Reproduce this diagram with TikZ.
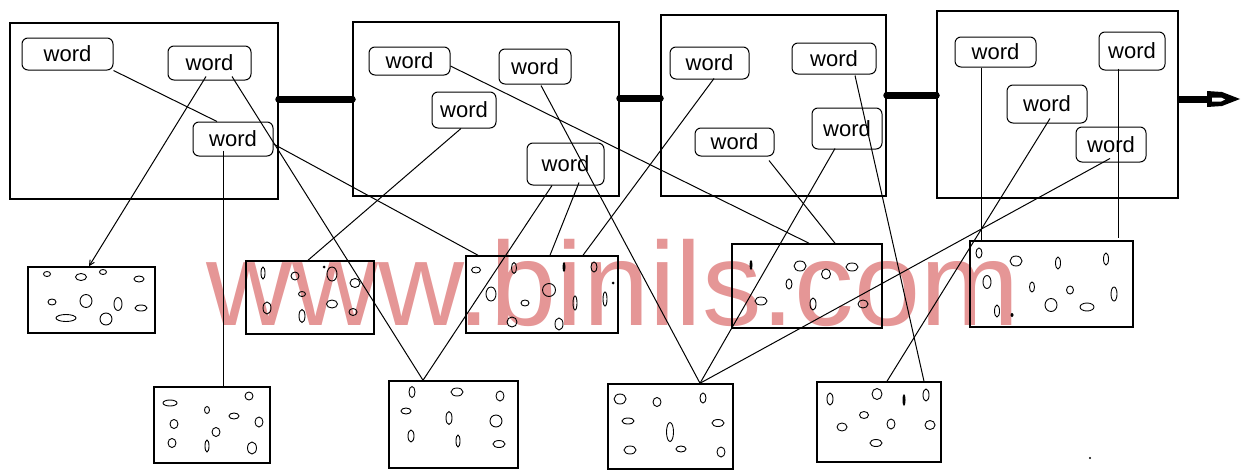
\documentclass[tikz,border=0pt]{standalone}
\usepackage{fontspec}
\newfontfamily\wf{Liberation Sans}
\usetikzlibrary{arrows.meta}
\definecolor{wmark}{RGB}{229,150,150}
\tikzset{
  bigbox/.style={draw, line width=1.5pt, inner sep=0pt},
  smallbox/.style={draw, line width=1.5pt, inner sep=0pt},
  wordbox/.style={draw, line width=1pt, rounded corners=6pt, inner sep=0pt, font=\wf\fontsize{22}{26}\selectfont},
  link/.style={line width=1pt},
  chain/.style={line width=7pt, line cap=round},
  blob/.style={line width=0.9pt},
}
\begin{document}
\begin{tikzpicture}[x=1pt,y=-1pt]
\useasboundingbox (0,0) rectangle (1241,471);
% watermark
\node[anchor=base west, inner sep=0pt, text=wmark, font=\wf\fontsize{119}{130}\selectfont] (wm) at (206,325) {www.binils.com};

% big boxes
\node[bigbox, minimum width=268pt, minimum height=176pt] (A) at (144,111) {};
\node[bigbox, minimum width=266pt, minimum height=174pt] (B) at (486,109) {};
\node[bigbox, minimum width=225pt, minimum height=181pt] (C) at (773.5,105.5) {};
\node[bigbox, minimum width=241pt, minimum height=187pt] (D) at (1057.5,104.5) {};

% word boxes
\node[wordbox, minimum width=91pt, minimum height=32pt] (A1) at (67.5,54) {word};
\node[wordbox, minimum width=83pt, minimum height=34pt] (A2) at (209.5,63) {word};
\node[wordbox, minimum width=80pt, minimum height=34pt] (A3) at (233,139) {word};
\node[wordbox, minimum width=81pt, minimum height=28pt] (B1) at (409.5,61) {word};
\node[wordbox, minimum width=72pt, minimum height=35pt] (B2) at (535,66.5) {word};
\node[wordbox, minimum width=64pt, minimum height=36pt] (B3) at (464,110) {word};
\node[wordbox, minimum width=77pt, minimum height=42pt] (B4) at (565.5,164) {word};
\node[wordbox, minimum width=79pt, minimum height=32pt] (C1) at (709.5,63) {word};
\node[wordbox, minimum width=84pt, minimum height=31pt] (C2) at (834,58.5) {word};
\node[wordbox, minimum width=79pt, minimum height=28pt] (C3) at (734.5,142) {word};
\node[wordbox, minimum width=70pt, minimum height=41pt] (C4) at (847,128.5) {word};
\node[wordbox, minimum width=81pt, minimum height=30pt] (D1) at (995.5,52) {word};
\node[wordbox, minimum width=66pt, minimum height=38pt] (D2) at (1132,51) {word};
\node[wordbox, minimum width=80pt, minimum height=38pt] (D3) at (1047,104) {word};
\node[wordbox, minimum width=70pt, minimum height=35pt] (D4) at (1111,144.5) {word};

% small boxes
\node[smallbox, minimum width=127pt, minimum height=66pt] (S1) at (91.5,300) {};
\node[smallbox, minimum width=128pt, minimum height=73pt] (S2) at (310,297.5) {};
\node[smallbox, minimum width=152pt, minimum height=77pt] (S3) at (542,294.5) {};
\node[smallbox, minimum width=116pt, minimum height=76pt] (S4) at (212,425) {};
\node[smallbox, minimum width=150pt, minimum height=84pt] (S5) at (807,286) {};
\node[smallbox, minimum width=129pt, minimum height=87pt] (S6) at (453.5,424.5) {};
\node[smallbox, minimum width=125pt, minimum height=85pt] (S7) at (670.5,426.5) {};
\node[smallbox, minimum width=124pt, minimum height=80pt] (S8) at (879,422) {};
\node[smallbox, minimum width=163pt, minimum height=86pt] (S9) at (1051.5,284) {};

% thick chain links
\draw[chain] ([yshift=12pt]A.east) -- ([yshift=12pt]A.east -| B.west);
\draw[chain] ([yshift=11pt]B.east) -- ([yshift=11pt]B.east -| C.west);
\draw[chain] ([yshift=10.5pt]C.east) -- ([yshift=10.5pt]C.east -| D.west);
\coordinate (arrowend) at (1208,99);
\draw[chain, line cap=butt] ([yshift=5.5pt]D.east) -- (arrowend);
\fill (1207,91) -- (1222,92) -- (1240,99) -- (1222,106) -- (1207,107) -- cycle;
\fill[white] (1212,97.5) -- (1221,97.5) -- (1225,99.5) -- (1221,101.5) -- (1212,101.5) -- cycle;

% connectors
\draw[link] (A1.south east) -- ([xshift=-16pt]A3.north);
\draw[link, -{Straight Barb[length=5pt,width=5pt]}] ([xshift=-3.5pt,yshift=4pt]A2.south) -- ([xshift=-2.5pt]S1.north);
\draw[link] ([xshift=22.5pt,yshift=4pt]A2.south) -- ([xshift=-30.5pt]S6.north);
\draw[link] ([yshift=-5pt]A3.east) -- ([xshift=-64pt]S3.north);
\draw[link] ([xshift=-10pt,yshift=6pt]A3.south) -- ([xshift=-10pt]A3.south |- S4.north);
\draw[link] ([yshift=-5pt]B1.east) -- ([xshift=2pt]S5.north);
\draw[link] ([xshift=6pt,yshift=-1pt]B2.south) -- ([xshift=29.5pt]S7.north);
\draw[link] ([xshift=-3pt]B3.south) -- ([xshift=-2pt]S2.north);
\draw[link] ([xshift=-13.5pt]B4.south) -- ([xshift=-30.5pt]S6.north);
\draw[link] ([xshift=13.5pt,yshift=3pt]B4.south) -- ([xshift=8pt]S3.north);
\draw[link] ([xshift=4.5pt,yshift=1pt]C1.south) -- ([xshift=41pt]S3.north);
\draw[link] ([xshift=21pt,yshift=-1pt]C2.south) -- ([xshift=45pt]S8.north);
\draw[link] ([xshift=34.5pt,yshift=-4pt]C3.south) -- ([xshift=28pt]S5.north);
\draw[link] ([xshift=-12pt,yshift=1pt]C4.south) -- ([xshift=29.5pt]S7.north);
\draw[link] ([xshift=-14.5pt]D1.south) -- ([xshift=-14.5pt]D1.south |- S9.north);
\draw[link] ([xshift=-14pt,yshift=2pt]D2.south) -- ([xshift=-14pt,yshift=2pt]D2.south |- S9.north);
\draw[link] ([xshift=3pt,yshift=5pt]D3.south) -- ([xshift=8pt]S8.north);
\draw[link] ([xshift=-1pt,yshift=4pt]D4.south) -- ([xshift=29.5pt]S7.north);

% blobs in small boxes
\foreach \px/\py/\rx/\ry in {
 47/274/3.5/2.5, 81/277/5.5/3.5, 103/272/3.5/2.5, 139/279/5/3,
 52/302/4/3, 86/301/6/6.5, 118/304/4/6.5, 141/308/6/3, 66/318/10/3.5, 106/319/6/6,
 263/273/2/6, 295/276/4/4, 332/274/5/7, 355/283/5/4.5, 302/294/3.5/2.5,
 267/308/4/6, 332/304/5.5/4, 353/312/4/3.5, 302/316/3/6.5,
 476/270/4.5/3, 514/268/2.5/5.5, 594/267/3/5, 491/294/5/7, 549/290/6.5/6.5,
 525/303/4/3, 575/303/2/7, 605/299/2/7, 512/322/5/5, 559/324/4/6,
 170/403/7/3, 249/396/4/4, 207/410/2.5/3.5, 234/416/5/3, 174/424/4/4.5,
 259/422/4/5, 216/432/4/4.5, 172/443/4/4.5, 207/446/2/6, 252/448/4.5/6,
 412/392/3/5.5, 457/392/6/4, 500/396/4/5, 406/411/5/3, 449/418/3/6.5,
 496/421/6/6, 411/436/3/6, 458/441/2/6, 499/444/6/3.5,
 620/399/6/5, 657/402/4/4.5, 703/398/3/5, 628/421/6/3, 670/432/3.5/9.5,
 718/423/6/3.5, 630/450/6/4, 681/449/5/3, 721/452/4/5,
 800/266/6/5, 852/267/6/4, 789/284/3/5, 826/274/4.5/5, 761/301/6/4,
 813/304/3/6, 863/304/5/4,
 830/399/3/6, 877/394/5/5.5, 926/395/3/6, 864/415/4.5/3.5, 842/427/5/4,
 891/424/4/5, 930/425/5/4.5, 876/443/6/3.5,
 979/253/3/5, 1016/261/6/5, 1058/263/2.5/6, 1106/259/2.5/6, 987/282/4/6.5,
 1032/287/2.5/5, 1070/290/3.5/4, 1114/294/3/7, 997/311/2.5/6, 1051/305/6/6.5,
 1087/307/7/4}
 \draw[blob] (\px,\py) ellipse [x radius=\rx, y radius=\ry];
% dark marks
\foreach \px/\py/\rx/\ry in {564/267/1.5/5, 751/265/1.5/5, 904/400/1.5/6, 1012/315/1.5/2, 324/267/1.5/1.5, 613/283/1.5/1.5, 1090/458/1.2/1.2}
 \fill (\px,\py) ellipse [x radius=\rx, y radius=\ry];
\end{tikzpicture}
\end{document}
